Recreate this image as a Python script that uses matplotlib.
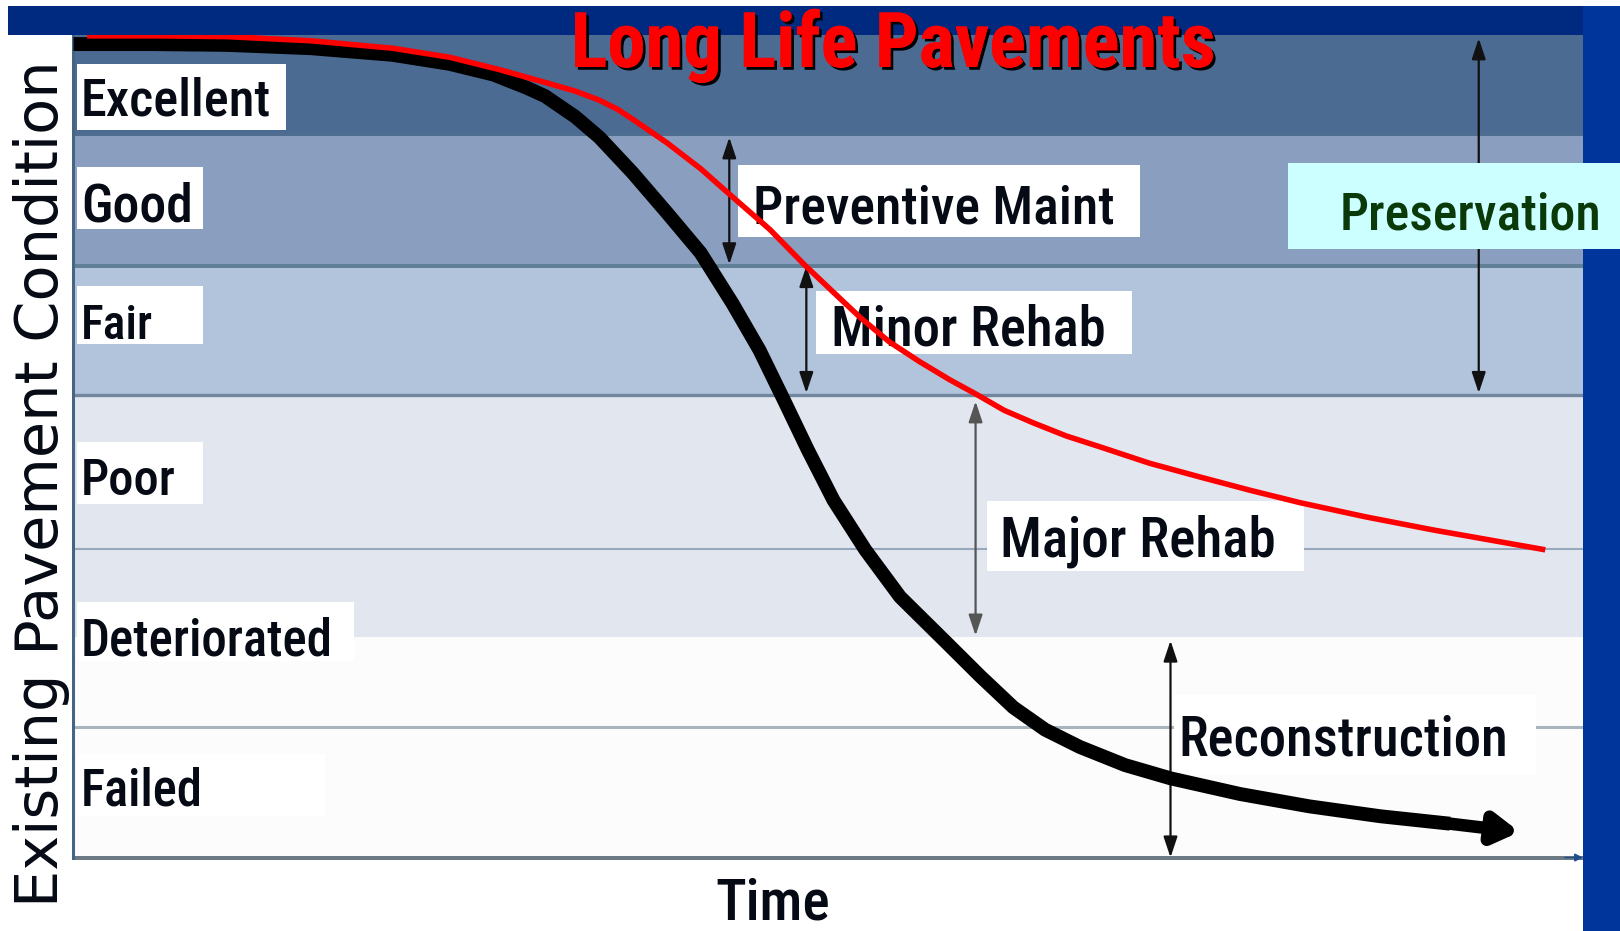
import matplotlib
matplotlib.use("Agg")
import matplotlib.pyplot as plt
from matplotlib import font_manager, patheffects
from matplotlib.font_manager import FontProperties
from matplotlib.patches import Rectangle
from matplotlib.transforms import Affine2D

# ---------------- data ----------------
# time axis 0..100, condition axis 0..100 (100 = top of chart)
shade_edges = [100, 88, 72, 56.4, 27, 0]
shade_colors = ["#4B6B93", "#8A9FBF", "#B2C3DC", "#E2E6EF", "#FCFCFD"]
line_levels = [88, 72, 56.4, 37.7, 16.1]
line_colors = ["#4E6D90", "#5F7F95", "#72879E", "#97A8BC", "#A9B5BD"]

band_names = ["Excellent", "Good", "Fair", "Poor", "Deteriorated", "Failed"]

black_t = [0.1, 5.2, 10.3, 15.8, 21.2, 25.0, 27.9, 30.1, 31.3, 33.3, 34.9, 37.1, 39.4,
           41.6, 43.7, 45.5, 47.1, 48.7, 50.4, 52.5, 54.8, 57.9, 60.1, 62.3, 64.4,
           66.7, 69.7, 72.7, 77.3, 81.9, 86.6, 91.2, 95.8]
black_c = [98.9, 98.9, 98.8, 98.4, 97.6, 96.5, 95.2, 93.6, 92.6, 90.1, 87.6, 83.3, 78.4,
           73.6, 67.5, 61.8, 55.8, 49.7, 43.6, 37.6, 31.9, 26.3, 22.3, 18.5, 15.8,
           13.7, 11.5, 9.9, 8.0, 6.5, 5.3, 4.4, 3.4]

red_t = [1.0, 5.8, 10.3, 15.8, 21.2, 25.0, 28.3, 31.6, 33.3, 34.9, 36.1, 37.1, 39.4, 41.6,
         43.7, 46.2, 48.5, 50.4, 52.2, 54.1, 56.1, 58.1, 59.9, 61.7, 63.6, 65.8,
         68.0, 71.3, 74.7, 78.0, 81.3, 85.6, 90.1, 93.8, 97.5]
red_c = [99.9, 99.9, 99.8, 99.3, 98.4, 97.3, 95.8, 94.1, 93.2, 92.1, 91.0, 89.8, 86.9, 83.8,
         80.4, 76.4, 72.1, 68.8, 65.7, 62.8, 60.4, 58.2, 56.4, 54.5, 53.0, 51.4,
         50.1, 48.1, 46.4, 44.8, 43.3, 41.6, 40.0, 38.8, 37.6]

# double-headed treatment arrows: (time, top condition, bottom condition)
treat_names = ["Preventive Maint", "Minor Rehab", "Major Rehab", "Reconstruction", "Preservation"]
treat_t = [43.5, 48.6, 59.8, 72.7, 93.1]
treat_top = [87.6, 72.0, 55.6, 26.6, 99.6]
treat_bot = [72.2, 56.6, 27.2, 0.3, 56.6]

title = "Long Life Pavements"
ylabel = "Existing Pavement Condition"
xlabel = "Time"

# ---------------- fonts ----------------
def _w(v):
    if isinstance(v, str):
        return font_manager.weight_dict.get(v, 400)
    return v

def pick_font(weight):
    fams = ["Liberation Sans Narrow", "Arial Narrow", "Roboto Condensed",
            "Open Sans Condensed", "Noto Sans", "Noto Sans Condensed",
            "DejaVu Sans Condensed", "DejaVu Sans", "Liberation Sans"]
    stretch_rank = {"condensed": 0, "semi-condensed": 1, "extra-condensed": 2,
                    "ultra-condensed": 3, "normal": 5}
    best, best_score = None, None
    for f in font_manager.fontManager.ttflist:
        if f.style != "normal":
            continue
        if f.name not in fams:
            continue
        st = f.stretch if isinstance(f.stretch, str) else "normal"
        srank = stretch_rank.get(st, 6)
        low = f.fname.lower()
        if ("narrow" in low or "condensed" in low) and srank >= 5:
            srank = 1
        score = (srank, abs(_w(f.weight) - weight) // 100, fams.index(f.name))
        if best_score is None or score < best_score:
            best, best_score = f.fname, score
    if best is None:
        return FontProperties(family="Liberation Sans", weight=weight)
    return FontProperties(fname=best)

FP_REG = pick_font(500)
FP_BOLD = pick_font(700)

# ---------------- figure ----------------
W, H = 1620, 931
fig = plt.figure(figsize=(W / 100, H / 100), dpi=100)
fig.patch.set_facecolor("white")
pix = Affine2D().scale(1, -1).translate(0, H)  # pixel coords, origin top-left

L, R, T, B = 72, 1583, 35, 860
ax = fig.add_axes([L / W, 1 - B / H, (R - L) / W, (B - T) / H])
ax.set_xlim(0, 100)
ax.set_ylim(0, 100)
ax.set_axis_off()
ax.set_autoscale_on(False)

# bands
for i, col in enumerate(shade_colors):
    ax.axhspan(shade_edges[i + 1], shade_edges[i], color=col, lw=0, zorder=0)
lws = [2.2, 2.8, 2.4, 1.5, 2.2]
for lv, col, lw in zip(line_levels, line_colors, lws):
    ax.axhline(lv, color=col, lw=lw, zorder=1)
ax.axhline(0.3, color="#6C7A84", lw=3.6, zorder=1)
ax.axvline(0.05, color="#456585", lw=2.2, zorder=1)

fit_list = []  # (text artist, target width px, use height)

def box(x0, y0, x1, y1, color="white", z=2, target=None):
    r = Rectangle((x0, y0), x1 - x0, y1 - y0, transform=pix, facecolor=color,
                  edgecolor="none", zorder=z, clip_on=False)
    (target or ax).add_artist(r)

label_boxes = [(77, 64, 286, 130), (77, 167, 203, 229), (77, 286, 203, 344),
               (77, 442, 203, 504), (77, 602, 354, 661), (77, 754, 325, 816)]
label_base = [116, 221, 339, 495, 656, 805]
label_w = [190, 112, 72, 95, 252, 122]
for name, bx, yb, tw in zip(band_names, label_boxes, label_base, label_w):
    box(*bx)
    t = ax.text(81, yb, name, transform=pix, fontproperties=FP_REG, fontsize=40,
                color="#050A14", va="baseline", ha="left", zorder=3)
    fit_list.append((t, tw, False))

treat_boxes = [(738, 165, 1140, 237), (816, 291, 1132, 354), (987, 501, 1304, 571),
               (1174, 695, 1536, 775)]
treat_text_x = [753, 831, 1000, 1178]
treat_base = [224, 345, 556, 756]
treat_w = [362, 275, 276, 330]
for name, bx, tx, yb, tw in zip(treat_names[:4], treat_boxes, treat_text_x, treat_base, treat_w):
    box(*bx)
    t = ax.text(tx, yb, name, transform=pix, fontproperties=FP_REG, fontsize=42,
                color="#050A14", va="baseline", ha="left", zorder=3)
    fit_list.append((t, tw, False))

# treatment arrows
arrow_cols = ["#111111", "#111111", "#555555", "#111111", "#111111"]
for t_, top, bot, col in zip(treat_t, treat_top, treat_bot, arrow_cols):
    ax.annotate("", xy=(t_, top), xytext=(t_, bot),
                arrowprops=dict(arrowstyle="<|-|>,head_length=0.9,head_width=0.3",
                                color=col, lw=1.6, mutation_scale=14,
                                shrinkA=0, shrinkB=0), zorder=4)

# curves
ax.plot(black_t[:-1], black_c[:-1], color="black", lw=10, zorder=5,
        solid_joinstyle="round", solid_capstyle="butt")
ax.annotate("", xy=(black_t[-1], black_c[-1]), xytext=(black_t[-2], black_c[-2]),
            arrowprops=dict(arrowstyle="-|>,head_length=0.7,head_width=0.42",
                            color="black", lw=9, mutation_scale=20,
                            shrinkA=0, shrinkB=0), zorder=5)
ax.plot(red_t, red_c, color="#FF0000", lw=4.0, zorder=6,
        solid_joinstyle="round", solid_capstyle="butt")

# small blue arrow at the end of the time axis
ax.annotate("", xy=(100, 0.3), xytext=(98.8, 0.3),
            arrowprops=dict(arrowstyle="-|>", color="#1F4E8C", lw=1, mutation_scale=12,
                            shrinkA=0, shrinkB=0), zorder=2, annotation_clip=False)

# ---------------- frame decorations (figure level) ----------------
fig.add_artist(Rectangle((8, 6), W - 8, T - 6, transform=pix, facecolor="#002A80",
                         edgecolor="none", zorder=1))
fig.add_artist(Rectangle((R, 6), W - R, H - 6, transform=pix, facecolor="#00359C",
                         edgecolor="none", zorder=1))
fig.add_artist(Rectangle((1288, 163), W - 1288, 86, transform=pix, facecolor="#CCFFFF",
                         edgecolor="none", zorder=2))
t = fig.text(1340, 229, treat_names[4], transform=pix, fontproperties=FP_REG, fontsize=41,
             color="#0A3A0A", va="baseline", ha="left", zorder=3)
fit_list.append((t, 262, False))

fig.add_artist(Rectangle((628, 862), 295, 69, transform=pix, facecolor="white",
                         edgecolor="none", zorder=2))
t = fig.text(773, 920, xlabel, transform=pix, fontproperties=FP_REG, fontsize=45,
             color="#050A14", va="baseline", ha="center", zorder=3)
fit_list.append((t, 115, False))

t = fig.text(42, 484, ylabel, transform=pix, fontsize=42, family="DejaVu Sans",
             color="#050A14", rotation=90, va="center", ha="center", zorder=3)
fit_list.append((t, 848, True))

t = fig.text(893, 67, title, transform=pix, fontproperties=FP_BOLD, fontsize=56,
             color="#FF0000", va="baseline", ha="center", zorder=10,
             path_effects=[patheffects.withSimplePatchShadow(offset=(2.0, -2.0),
                                                            shadow_rgbFace="black", alpha=1.0),
                           patheffects.Normal()])
fit_list.append((t, 645, False))

# fit text widths to the reference
fig.canvas.draw()
renderer = fig.canvas.get_renderer()
for art, target, vertical in fit_list:
    bb = art.get_window_extent(renderer)
    cur = bb.height if vertical else bb.width
    if cur > 0:
        art.set_fontsize(art.get_fontsize() * target / cur)

fig.savefig("out.png", dpi=100)
